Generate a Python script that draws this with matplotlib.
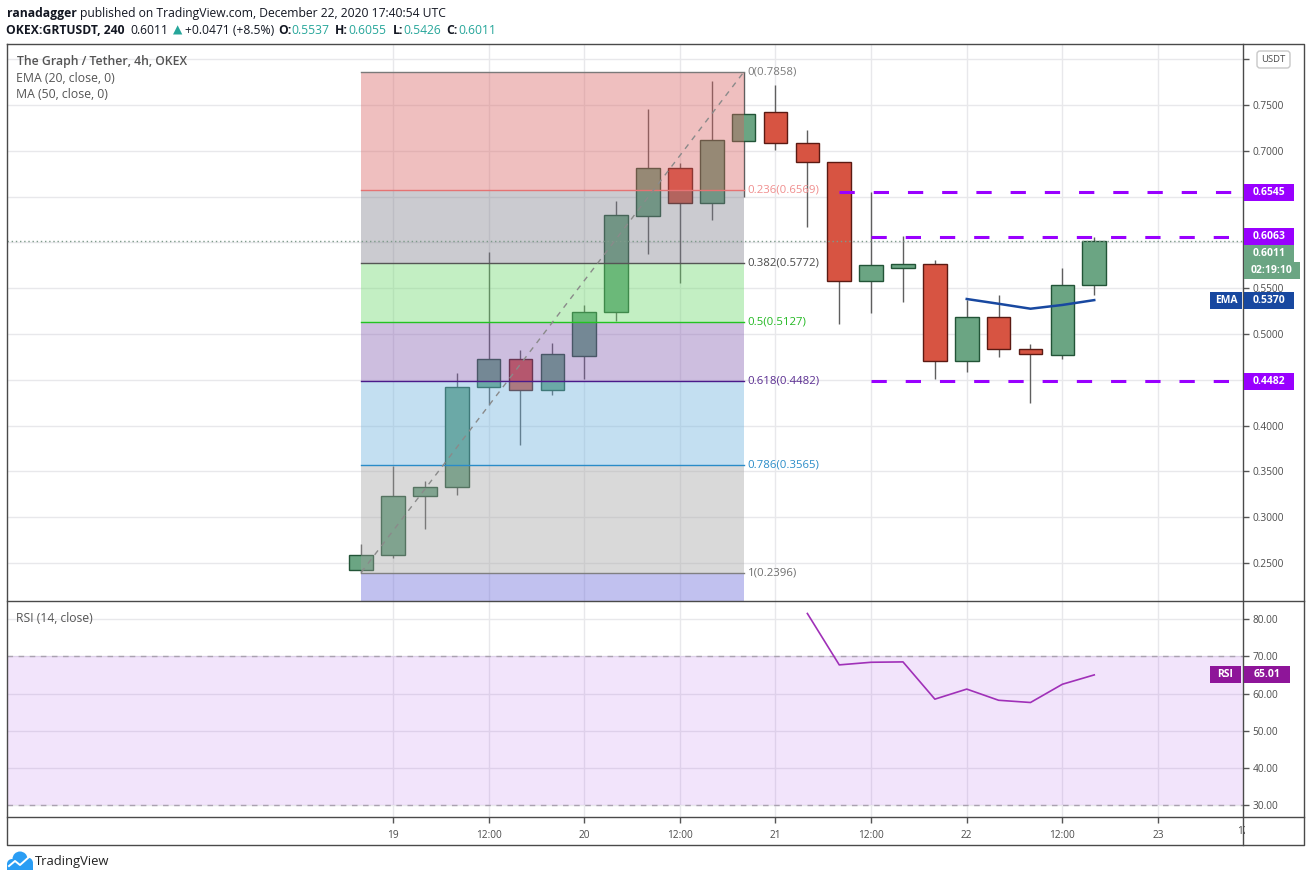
import matplotlib
matplotlib.use('Agg')
import matplotlib.pyplot as plt
from matplotlib.patches import Rectangle, FancyBboxPatch, Circle
from matplotlib.lines import Line2D
from matplotlib.transforms import Bbox, IdentityTransform
import numpy as np

plt.rcParams['font.family'] = ['Open Sans', 'DejaVu Sans']

W, H = 1311, 881
DPI = 100

# ---------------- data ----------------
candle_idx = list(range(24))   # 4h candles, Dec 18 20:00 .. Dec 22 16:00
opens  = [0.2420, 0.2584, 0.3228, 0.3326, 0.4418, 0.4724, 0.4392, 0.4763, 0.5237, 0.6285, 0.6809, 0.6427,
          0.7104, 0.7420, 0.7082, 0.6874, 0.5575, 0.5717, 0.5761, 0.4705, 0.5182, 0.4833, 0.4767, 0.5537]
highs  = [0.2707, 0.3562, 0.3395, 0.4571, 0.5892, 0.4825, 0.4902, 0.5317, 0.6452, 0.7456, 0.6863, 0.7762,
          0.7858, 0.7718, 0.7224, 0.6880, 0.6547, 0.6067, 0.5805, 0.5371, 0.5426, 0.4891, 0.5724, 0.6055]
lows   = [0.2396, 0.2558, 0.2874, 0.3246, 0.4225, 0.3792, 0.4337, 0.4512, 0.5145, 0.5877, 0.5560, 0.6248,
          0.6496, 0.7005, 0.6165, 0.5112, 0.5226, 0.5346, 0.4505, 0.4582, 0.4746, 0.4250, 0.4730, 0.5426]
closes = [0.2584, 0.3228, 0.3326, 0.4418, 0.4724, 0.4392, 0.4778, 0.5237, 0.6296, 0.6809, 0.6427, 0.7115,
          0.7398, 0.7082, 0.6874, 0.5575, 0.5750, 0.5761, 0.4705, 0.5182, 0.4833, 0.4778, 0.5540, 0.6011]

ema_idx = [19, 20, 21, 22, 23]
ema_vals = [0.5382, 0.5330, 0.5276, 0.5317, 0.5370]

rsi_idx = list(range(14, 24))
rsi_vals = [81.5, 67.7, 68.4, 68.5, 58.5, 61.2, 58.2, 57.6, 62.5, 65.01]

fib_ratios = [0, 0.236, 0.382, 0.5, 0.618, 0.786, 1]
fib_high, fib_low = 0.7858, 0.2396
fib_start, fib_end = 0, 12

levels = [0.6545, 0.6063, 0.4482]
level_start = [15, 16, 16]

last_price = 0.6011
ema_last = 0.5370
rsi_last = 65.01
countdown = '02:19:10'

tick_idx = [1, 4, 7, 10, 13, 16, 19, 22, 25]
tick_labels = ['19', '12:00', '20', '12:00', '21', '12:00', '22', '12:00', '23']
price_ticks = [0.25, 0.30, 0.35, 0.40, 0.45, 0.50, 0.55, 0.60, 0.65, 0.70, 0.75, 0.80]
hidden_price_labels = [0.60, 0.65, 0.80]   # covered by tags / USDT box in the reference
rsi_ticks = [30, 40, 50, 60, 70, 80]

# ---------------- figure ----------------
fig = plt.figure(figsize=(W / DPI, H / DPI), dpi=DPI)
fig.patch.set_facecolor('white')

def fr(x0, y0, x1, y1):
    return [x0 / W, 1 - y1 / H, (x1 - x0) / W, (y1 - y0) / H]

ax = fig.add_axes(fr(7, 44, 1243, 601))
axr = fig.add_axes(fr(7, 601, 1243, 817))

XL = (-11.11, 27.667)
ax.set_xlim(XL)
axr.set_xlim(XL)
ax.set_ylim(0.2085, 0.8166)
axr.set_ylim(26.86, 84.85)

TXT = '#4c4c4c'
for a in (ax, axr):
    for s in a.spines.values():
        s.set_visible(False)
    a.set_axisbelow(True)
    a.grid(True, color='#e8e8eb', lw=1)
    a.set_xticks(tick_idx)
    a.yaxis.tick_right()

ax.tick_params(axis='x', length=0, labelbottom=False)
ax.set_yticks(price_ticks)
ax.set_yticklabels(['' if any(abs(v - hv) < 1e-9 for hv in hidden_price_labels) else f'{v:.4f}'
                    for v in price_ticks])
ax.tick_params(axis='y', direction='out', length=4, width=1, color='#555555',
               labelsize=7.3, labelcolor=TXT, pad=3)

axr.set_xticklabels(tick_labels)
axr.tick_params(axis='x', direction='out', length=4, width=1, color='#555555',
                labelsize=7.3, labelcolor=TXT, pad=5)
axr.set_yticks(rsi_ticks)
axr.set_yticklabels([f'{v:.2f}' for v in rsi_ticks])
axr.tick_params(axis='y', direction='out', length=4, width=1, color='#555555',
                labelsize=7.3, labelcolor=TXT, pad=3)

# ---------------- candles ----------------
UP, UP_E = '#6ba583', '#225437'
DN, DN_E = '#d75442', '#5b1a13'
for i, o, h, l, c in zip(candle_idx, opens, highs, lows, closes):
    up = c >= o
    ax.plot([i, i], [l, h], color='#5f5f5f', lw=1, zorder=2, solid_capstyle='butt')
    ax.add_patch(Rectangle((i - 0.37, min(o, c)), 0.74, abs(c - o),
                           fc=UP if up else DN, ec=UP_E if up else DN_E, lw=1, zorder=3))

# ---------------- fibonacci ----------------
rng = fib_high - fib_low
fib_prices = [fib_high - r * rng for r in fib_ratios]
zone_colors = ['#d96161', '#7d7d8a', '#6bd96b', '#845db1', '#6bb1de', '#a2a2a2']
for k in range(6):
    ax.add_patch(Rectangle((fib_start, fib_prices[k + 1]), fib_end - fib_start,
                           fib_prices[k] - fib_prices[k + 1], fc=zone_colors[k],
                           alpha=0.4, ec='none', zorder=4))
ext = fib_high - 1.618 * rng
ax.add_patch(Rectangle((fib_start, ext), fib_end - fib_start, fib_low - ext,
                       fc='#6666d9', alpha=0.4, ec='none', zorder=4))
line_colors = ['#7a7a7a', '#e57373', '#555555', '#22c322', '#4a1a8a', '#2a8cc8', '#808080']
label_colors = ['#7a7a7a', '#f08e8e', '#4a4a4a', '#22b822', '#5a2d91', '#2a8cc8', '#6e6e6e']
for r, p, lc, tc in zip(fib_ratios, fib_prices, line_colors, label_colors):
    ax.plot([fib_start, fib_end], [p, p], color=lc, lw=1, zorder=5)
    ax.text(fib_end + 0.13, p, f'{r:g}({p:.4f})', color=tc, fontsize=8.2,
            va='center', ha='left', zorder=9)
ax.plot([fib_start, fib_end], [fib_low, fib_high], color='#8a8a8a', lw=1,
        ls=(0, (4, 4)), zorder=6)

# current price dotted
ax.axhline(last_price, color='#7e9a8a', lw=1, ls=(0, (1, 2)), zorder=6)

# purple horizontal levels
for lv, s in zip(levels, level_start):
    ax.plot([s, XL[1] + 1], [lv, lv], color='#9900ff', lw=2.2, ls=(0, (5, 6.2)),
            dash_capstyle='butt', zorder=7)

# EMA
ax.plot(ema_idx, ema_vals, color='#1848a0', lw=1.8, zorder=8)

# ---------------- RSI ----------------
axr.axhspan(30, 70, fc='#9b26e6', alpha=0.12, ec='none', zorder=1)
for v in (70, 30):
    axr.axhline(v, color='#aaa2b0', lw=1, ls=(0, (4, 4)), zorder=2)
axr.plot(rsi_idx, rsi_vals, color='#a030b8', lw=1.2, zorder=3)

# ---------------- frame ----------------
def fline(xs, ys, **kw):
    fig.add_artist(Line2D([x / W for x in xs], [1 - y / H for y in ys],
                          transform=fig.transFigure, color='#4a4a4a', lw=1, **kw))

fline([7, 1304, 1304, 7, 7], [44, 44, 845, 845, 44])
fline([7, 1304], [601, 601])
fline([7, 1304], [817, 817])
fline([1243, 1243], [44, 845])

# clipped tick label at the right end of the time scale
x28 = axr.transData.transform((27.9, 0))[0]
t_clip = fig.text(x28, H - 832, '12:00', transform=IdentityTransform(), fontsize=7.3,
                  color=TXT, ha='center', va='center')
t_clip.set_clip_box(Bbox.from_extents(7, 0, 1245, H))
t_clip.set_clip_on(True)

# ---------------- tags ----------------
def ypix(a, v):
    return a.transData.transform((0, v))[1]

def tag(x0, x1, yc, txt, fc, h=17, fs=7.5, tc='white'):
    fig.add_artist(Rectangle((x0, yc - h / 2), x1 - x0, h, transform=IdentityTransform(),
                             fc=fc, ec='none', zorder=20))
    fig.text((x0 + x1) / 2, yc, txt, transform=IdentityTransform(), color=tc,
             fontsize=fs, fontweight='bold', ha='center', va='center', zorder=21)

for lv in levels:
    tag(1244, 1294, ypix(ax, lv), f'{lv:.4f}', '#9900ff')
y_last = ypix(ax, last_price) - 12
tag(1244, 1294, y_last, f'{last_price:.4f}', '#6ba583')
tag(1244, 1300, y_last - 17, countdown, '#6ba583')
tag(1210, 1242, ypix(ax, ema_last), 'EMA', '#1848a0')
tag(1244, 1294, ypix(ax, ema_last), f'{ema_last:.4f}', '#1848a0')
tag(1210, 1241, ypix(axr, rsi_last), 'RSI', '#8e1599')
tag(1244, 1290, ypix(axr, rsi_last), f'{rsi_last:.2f}', '#8e1599')

# USDT box
fig.add_artist(FancyBboxPatch((1257, H - 68), 33, 17, boxstyle='round,pad=0,rounding_size=3',
                              transform=IdentityTransform(), fc='white', ec='#c8c8c8',
                              lw=1, zorder=20))
fig.text(1273.5, H - 59.5, 'USDT', transform=IdentityTransform(), fontsize=6.8,
         color=TXT, ha='center', va='center', zorder=21)

# ---------------- header text ----------------
renderer = fig.canvas.get_renderer()

def seq(x, y, parts, fs=8.7):
    for s, col, wt, gap in parts:
        x += gap
        t = fig.text(x, H - y, s, transform=IdentityTransform(), fontsize=fs, color=col,
                     fontweight=wt, ha='left', va='center')
        x = t.get_window_extent(renderer).x1

DARK = '#131722'
TEAL = '#26a69a'
seq(7, 13, [('ranadagger', DARK, 'bold', 0),
            ('published on TradingView.com, December 22, 2020 17:40:54 UTC', DARK, 'normal', 3)])
seq(6, 30, [('OKEX:GRTUSDT, 240', DARK, 'bold', 0),
            ('0.6011', DARK, 'normal', 6),
            ('▲', TEAL, 'normal', 4),
            ('+0.0471 (+8.5%)', DARK, 'normal', 3),
            ('O:', DARK, 'bold', 4), ('0.5537', TEAL, 'normal', 0),
            ('H:', DARK, 'bold', 6), ('0.6055', TEAL, 'normal', 0),
            ('L:', DARK, 'bold', 6), ('0.5426', TEAL, 'normal', 0),
            ('C:', DARK, 'bold', 6), ('0.6011', TEAL, 'normal', 0)])

LEG = '#555555'
fig.text(17 / W, 1 - 61 / H, 'The Graph / Tether, 4h, OKEX', fontsize=8.8, color=LEG,
         fontweight='semibold', va='center', ha='left')
fig.text(16 / W, 1 - 78 / H, 'EMA (20, close, 0)', fontsize=8.8, color=LEG, va='center', ha='left')
fig.text(16 / W, 1 - 95 / H, 'MA (50, close, 0)', fontsize=8.8, color=LEG, va='center', ha='left')
fig.text(16 / W, 1 - 618 / H, 'RSI (14, close)', fontsize=8.7, color=LEG, va='center', ha='left')

# ---------------- TradingView logo ----------------
LOGO = '#2a9df4'
for cx, cy, rr in [(20, 859, 7.5), (12, 864, 5), (27.5, 863, 5.5)]:
    fig.add_artist(Circle((cx, H - cy), rr, transform=IdentityTransform(), fc=LOGO, ec='none', zorder=5))
fig.add_artist(Rectangle((7, H - 870), 26, 6, transform=IdentityTransform(), fc=LOGO, ec='none', zorder=5))
fig.add_artist(Line2D([9, 15, 20, 29], [H - 866, H - 861, H - 865, H - 857],
                      transform=IdentityTransform(), color='white', lw=1.4, zorder=6))
fig.text(35, H - 862, 'TradingView', transform=IdentityTransform(), fontsize=9.4,
         color='#222222', ha='left', va='center')

fig.savefig('out.png', dpi=DPI, facecolor='white')
